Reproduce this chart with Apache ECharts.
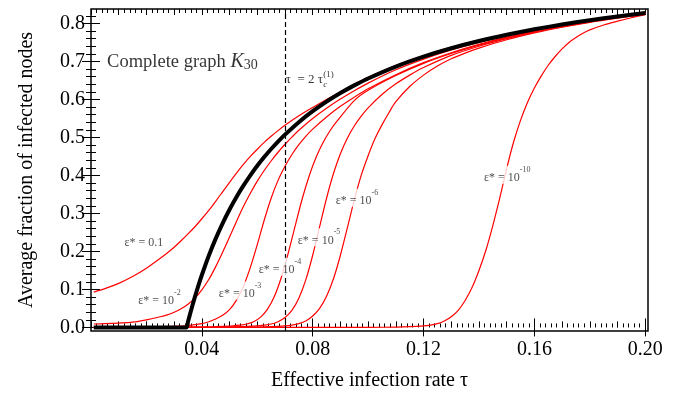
<!DOCTYPE html>
<html><head><meta charset="utf-8">
<script src="https://cdn.jsdelivr.net/npm/echarts@6/dist/echarts.min.js"></script>
<style>html,body{margin:0;padding:0;background:#fff}#c{width:677px;height:396px}</style>
</head><body><div id="c"></div>
<script>
// ---- data ----
const tauBlack = [0.001,0.01,0.02,0.03,0.0345,0.035,0.036,0.037,0.038,0.039,0.04,0.0425,0.045,0.0475,0.05,0.0525,0.055,0.0575,0.06,0.0625,0.065,0.0675,0.07,0.075,0.08,0.085,0.09,0.095,0.10,0.11,0.12,0.13,0.14,0.15,0.16,0.17,0.18,0.19,0.20];
const yBlack   = [0,0,0,0,0,0.0148,0.0421,0.068,0.0926,0.1158,0.1379,0.1886,0.2337,0.274,0.3103,0.3432,0.373,0.4003,0.4253,0.4483,0.4695,0.4891,0.5074,0.5402,0.569,0.5943,0.6169,0.637,0.6552,0.6865,0.7126,0.7347,0.7537,0.7701,0.7845,0.7972,0.8084,0.8185,0.8276];

const tauE1 = [0.001,0.005,0.01,0.015,0.02,0.025,0.0275,0.03,0.0325,0.035,0.0375,0.04,0.0425,0.045,0.0475,0.05,0.0525,0.055,0.0575,0.06,0.0625,0.065,0.0675,0.07,0.075,0.08,0.085,0.09,0.095,0.10,0.11,0.12,0.13,0.14,0.15,0.16,0.17,0.18,0.19,0.20];
const yE1   = [0.093,0.102,0.116,0.134,0.156,0.182,0.196,0.211,0.228,0.246,0.265,0.286,0.308,0.332,0.357,0.382,0.406,0.429,0.45,0.469,0.487,0.503,0.518,0.532,0.557,0.579,0.6,0.62,0.64,0.658,0.689,0.715,0.737,0.756,0.772,0.786,0.799,0.81,0.82,0.829];

const tauE2 = [0.001,0.005,0.01,0.015,0.02,0.025,0.0275,0.03,0.0325,0.035,0.0375,0.04,0.0425,0.045,0.0475,0.05,0.0525,0.055,0.0575,0.06,0.0625,0.065,0.0675,0.07,0.0725,0.075,0.08,0.085,0.09,0.095,0.10,0.11,0.12,0.13,0.14,0.15,0.16,0.17,0.18,0.19,0.20];
const yE2   = [0.009,0.0098,0.0115,0.014,0.02,0.028,0.033,0.04,0.049,0.061,0.077,0.099,0.126,0.16,0.198,0.238,0.279,0.318,0.353,0.385,0.413,0.438,0.461,0.482,0.501,0.519,0.55,0.577,0.601,0.623,0.643,0.678,0.706,0.73,0.75,0.768,0.783,0.796,0.807,0.818,0.827];

const tauE3 = [0.001,0.02,0.03,0.035,0.04,0.0425,0.045,0.0475,0.05,0.0525,0.055,0.0575,0.06,0.0625,0.065,0.0675,0.07,0.0725,0.075,0.0775,0.08,0.085,0.09,0.095,0.10,0.11,0.12,0.13,0.14,0.15,0.16,0.17,0.18,0.19,0.20];
const yE3   = [0.001,0.0015,0.003,0.005,0.01,0.015,0.022,0.032,0.047,0.072,0.108,0.158,0.218,0.282,0.34,0.387,0.424,0.455,0.481,0.503,0.522,0.554,0.582,0.606,0.628,0.665,0.697,0.723,0.745,0.764,0.78,0.794,0.806,0.817,0.827];

const tauE4 = [0.001,0.04,0.045,0.05,0.0512,0.0537,0.0562,0.0587,0.0612,0.0637,0.0662,0.0687,0.0712,0.0737,0.0762,0.0787,0.0812,0.0837,0.0862,0.0887,0.095,0.10,0.11,0.12,0.13,0.14,0.15,0.16,0.17,0.18,0.19,0.20];
const yE4   = [0,0.001,0.002,0.0035,0.004,0.006,0.009,0.015,0.027,0.048,0.082,0.132,0.196,0.268,0.338,0.398,0.447,0.486,0.517,0.542,0.597,0.624,0.663,0.695,0.721,0.743,0.762,0.778,0.792,0.805,0.816,0.826];

const tauE5 = [0.001,0.05,0.06,0.0625,0.065,0.0675,0.07,0.0725,0.075,0.0775,0.08,0.0825,0.085,0.0875,0.09,0.0925,0.095,0.0975,0.10,0.105,0.11,0.115,0.12,0.13,0.14,0.15,0.16,0.17,0.18,0.19,0.20];
const yE5   = [0,0.001,0.004,0.006,0.009,0.015,0.026,0.045,0.077,0.125,0.19,0.265,0.34,0.405,0.457,0.498,0.53,0.556,0.578,0.613,0.641,0.664,0.684,0.716,0.74,0.76,0.777,0.791,0.804,0.815,0.825];

const tauE6 = [0.001,0.06,0.065,0.07,0.0725,0.075,0.0775,0.08,0.0825,0.085,0.0875,0.09,0.0925,0.095,0.0975,0.10,0.1025,0.105,0.1075,0.11,0.115,0.12,0.125,0.13,0.135,0.14,0.15,0.16,0.17,0.18,0.19,0.20];
const yE6   = [0,0.001,0.002,0.004,0.006,0.01,0.017,0.03,0.05,0.082,0.128,0.19,0.262,0.335,0.4,0.452,0.497,0.533,0.565,0.594,0.634,0.664,0.688,0.707,0.722,0.735,0.757,0.775,0.79,0.803,0.814,0.824];

const tauE10 = [0.001,0.10,0.11,0.115,0.12,0.1225,0.125,0.1275,0.13,0.1325,0.135,0.1375,0.14,0.1425,0.145,0.1475,0.15,0.1525,0.155,0.1575,0.16,0.1625,0.165,0.1675,0.17,0.1725,0.175,0.1775,0.18,0.185,0.19,0.195,0.20];
const yE10   = [0,0.0003,0.001,0.002,0.004,0.006,0.01,0.017,0.028,0.045,0.071,0.105,0.15,0.203,0.268,0.34,0.418,0.488,0.545,0.592,0.63,0.662,0.69,0.713,0.733,0.75,0.763,0.774,0.783,0.796,0.806,0.815,0.823];

const tauDashed = 0.07;

const xTickValues = [0.04,0.08,0.12,0.16,0.20];
const xTickLabels = ['0.04','0.08','0.12','0.16','0.20'];
const yTickValues = [0,0.1,0.2,0.3,0.4,0.5,0.6,0.7,0.8];
const yTickLabels = ['0.0','0.1','0.2','0.3','0.4','0.5','0.6','0.7','0.8'];

// ---- drawing ----
const F = '"Liberation Serif","Times New Roman",serif';
const xRange = [0, 0.201], yRange = [-0.0094, 0.838];
function steps(a, b, s){ const r=[]; for(let i=Math.round(a/s); i*s<=b+1e-9; i++) r.push(+(i*s).toFixed(6)); return r; }
const xMid = steps(0, 0.2, 0.01), xMinor = steps(0, 0.2, 0.002), yMinor = steps(0, 0.82, 0.02);
const zip = (a, b) => a.map((v, i) => [v, b[i]]);

function xAx(pos, vals, len, withLabels){
  const ax = {type:'value', position:pos, min:xRange[0], max:xRange[1], gridIndex:0,
    axisLine:{show:false}, splitLine:{show:false},
    axisTick:{show:true, inside:true, length:len, customValues:vals, lineStyle:{color:'#000', width:1}},
    axisLabel:{show:false}};
  if (withLabels){
    ax.axisLabel = {show:true, customValues:xTickValues, margin:9, color:'#000', fontFamily:F, fontSize:20,
      formatter:(v)=>{ const i = xTickValues.findIndex(t=>Math.abs(t-v)<1e-9); return i>=0 ? xTickLabels[i] : ''; }};
    ax.name = 'Effective infection rate τ'; ax.nameLocation = 'middle'; ax.nameGap = 40;
    ax.nameTextStyle = {color:'#000', fontFamily:F, fontSize:20};
  }
  return ax;
}
function yAx(pos, vals, len, withLabels){
  const ax = {type:'value', position:pos, min:yRange[0], max:yRange[1], gridIndex:0,
    axisLine:{show:false}, splitLine:{show:false},
    axisTick:{show:true, inside:true, length:len, customValues:vals, lineStyle:{color:'#000', width:1}},
    axisLabel:{show:false}};
  if (withLabels){
    ax.axisLabel = {show:true, customValues:yTickValues, margin:6, color:'#000', fontFamily:F, fontSize:20,
      formatter:(v)=>{ const i = yTickValues.findIndex(t=>Math.abs(t-v)<1e-9); return i>=0 ? yTickLabels[i] : ''; }};
    ax.name = 'Average fraction of infected nodes'; ax.nameLocation = 'middle'; ax.nameGap = 54;
    ax.nameTextStyle = {color:'#000', fontFamily:F, fontSize:20};
  }
  return ax;
}

const red = (name, t, y) => ({name, type:'line', xAxisIndex:0, yAxisIndex:0, data:zip(t,y), showSymbol:false,
  smooth:0.3, lineStyle:{color:'#ff0000', width:1.2}, itemStyle:{color:'#ff0000'}, z:3, silent:true});

const supRich = {
  a:{fontFamily:F, fontSize:12, color:'#222', lineHeight:18, verticalAlign:'bottom'},
  s:{fontFamily:F, fontSize:8, color:'#222', lineHeight:8, verticalAlign:'top'}
};
function epsLabel(pos, txt, sup){
  return {value:pos, label:{show:true, position:'inside', formatter: sup ? `{a|ε* = ${txt}}{s|${sup}}` : `{a|ε* = ${txt}}`,
    rich:supRich, backgroundColor:'#fff', padding:[0,1,0,1]}};
}
const annotations = [
  epsLabel([0.0191, 0.231], '0.1'),
  epsLabel([0.0247, 0.079], '10', '-2'),
  epsLabel([0.0538, 0.097], '10', '-3'),
  epsLabel([0.0682, 0.160], '10', '-4'),
  epsLabel([0.0823, 0.237], '10', '-5'),
  epsLabel([0.0960, 0.341], '10', '-6'),
  epsLabel([0.1502, 0.402], '10', '-10'),
  {value:[0.0058, 0.698], label:{show:true, position:'right', distance:0,
    formatter:'{a|Complete graph }{k|K}{n|30}',
    rich:{a:{fontFamily:F, fontSize:18.5, color:'#000', lineHeight:20},
          k:{fontFamily:F, fontSize:20, fontStyle:'italic', color:'#000', lineHeight:20},
          n:{fontFamily:F, fontSize:14, color:'#000', lineHeight:9, verticalAlign:'bottom'}}}},
  {value:[0.0703, 0.653], label:{show:true, position:'right', distance:0, formatter:'{a|τ  = 2 τ}',
    rich:{a:{fontFamily:F, fontSize:13, color:'#000'}}}},
  {value:[0.0838, 0.652], label:{show:true, position:'right', distance:0, formatter:'{s|(1)}\n{c|c}',
    rich:{s:{fontFamily:F, fontSize:9, color:'#000', lineHeight:10},
          c:{fontFamily:F, fontSize:9, fontStyle:'italic', color:'#000', lineHeight:10}}}}
];

const chart = echarts.init(document.getElementById('c'), null, {renderer:'canvas'});
chart.setOption({
  animation:false,
  backgroundColor:'#fff',
  grid:{left:91, right:29, top:9, bottom:64, show:true, borderColor:'#000', borderWidth:1.5, backgroundColor:'transparent', containLabel:false},
  xAxis:[
    xAx('bottom', xTickValues, 9, true),
    xAx('bottom', xMid, 6, false),
    xAx('bottom', xMinor, 4, false),
    xAx('top', xTickValues, 9, false),
    xAx('top', xMid, 6, false),
    xAx('top', xMinor, 4, false)
  ],
  yAxis:[
    yAx('left', yTickValues, 9, true),
    yAx('left', yMinor, 5, false),
    yAx('right', yTickValues, 9, false),
    yAx('right', yMinor, 5, false)
  ],
  series:[
    Object.assign(red('e1', tauE1, yE1), {markLine:{silent:true, symbol:'none', label:{show:false},
      lineStyle:{color:'#000', type:[5,3], width:1.2}, data:[{xAxis:tauDashed}], animation:false}}),
    red('e2', tauE2, yE2),
    red('e3', tauE3, yE3),
    red('e4', tauE4, yE4),
    red('e5', tauE5, yE5),
    red('e6', tauE6, yE6),
    red('e10', tauE10, yE10),
    {name:'black', type:'line', xAxisIndex:0, yAxisIndex:0, data:zip(tauBlack, yBlack), showSymbol:false,
      smooth:0.2, lineStyle:{color:'#000', width:4}, z:4, silent:true},
    {name:'labels', type:'scatter', xAxisIndex:0, yAxisIndex:0, symbolSize:0, data:annotations, z:10, silent:true}
  ]
});
</script></body></html>
